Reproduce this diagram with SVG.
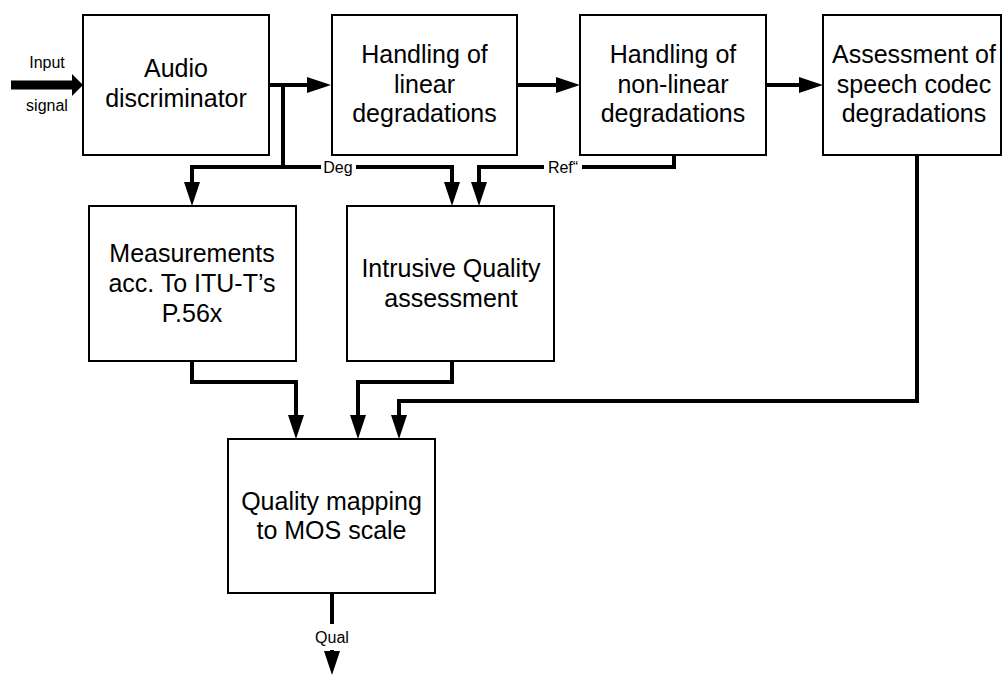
<svg xmlns="http://www.w3.org/2000/svg" width="1002" height="675" viewBox="0 0 1002 675">
<style>
.box{fill:#fff;stroke:#000;stroke-width:2}
.t{font-family:"Liberation Sans",Arial,sans-serif;font-size:25px;fill:#000;text-anchor:middle}
.s{font-family:"Liberation Sans",Arial,sans-serif;font-size:16px;fill:#000;text-anchor:middle}
.c{fill:none;stroke:#000;stroke-width:4;stroke-linejoin:miter}
</style>
<defs>
<marker id="ah" markerUnits="userSpaceOnUse" markerWidth="24" markerHeight="16" refX="4" refY="8" orient="auto" viewBox="0 0 24 16">
<path d="M0,0 L24,8 L0,16 Z" fill="#000"/>
</marker>
</defs>
<rect width="1002" height="675" fill="#fff"/>
<g id="connectors">
<line x1="11" y1="85" x2="73" y2="85" stroke="#000" stroke-width="9"/>
<polygon points="72,74 83,85 72,96" fill="#000"/>
<polyline class="c" points="269,85 311,85" marker-end="url(#ah)"/>
<polyline class="c" points="283,85 283,167"/>
<polyline class="c" points="285,167 192,167 192,186" marker-end="url(#ah)"/>
<polyline class="c" points="281,167 321,167"/>
<polyline class="c" points="356,167 452,167 452,186" marker-end="url(#ah)"/>
<polyline class="c" points="517,85 560,85" marker-end="url(#ah)"/>
<polyline class="c" points="766,85 803,85" marker-end="url(#ah)"/>
<polyline class="c" points="674,155 674,167 582,167"/>
<polyline class="c" points="544,167 479,167 479,186" marker-end="url(#ah)"/>
<polyline class="c" points="192,362 192,382 296,382 296,419" marker-end="url(#ah)"/>
<polyline class="c" points="452,362 452,382 358,382 358,419" marker-end="url(#ah)"/>
<polyline class="c" points="917,155 917,401 399,401 399,419" marker-end="url(#ah)"/>
<polyline class="c" points="332,593 332,624"/>
<polyline class="c" points="332,650 332,655" marker-end="url(#ah)"/>
<text class="s" x="338" y="173">Deg</text>
<text class="s" x="563" y="173">Ref“</text>
<text class="s" x="332" y="643" font-size="17">Qual</text>
<text class="s" x="47" y="68" font-size="17">Input</text>
<text class="s" x="47" y="111" font-size="17">signal</text>
</g>
<g id="audio">
<rect class="box" x="83" y="15" width="186" height="140"/>
<text class="t" x="176" y="77">Audio</text>
<text class="t" x="176" y="107">discriminator</text>
</g>
<g id="linear">
<rect class="box" x="332" y="15" width="185" height="140"/>
<text class="t" x="424.5" y="63">Handling of</text>
<text class="t" x="424.5" y="93">linear</text>
<text class="t" x="424.5" y="122">degradations</text>
</g>
<g id="nonlinear">
<rect class="box" x="580" y="15" width="186" height="140"/>
<text class="t" x="673" y="63">Handling of</text>
<text class="t" x="673" y="93">non-linear</text>
<text class="t" x="673" y="122">degradations</text>
</g>
<g id="codec">
<rect class="box" x="823" y="15" width="178" height="140"/>
<text class="t" x="914" y="63">Assessment of</text>
<text class="t" x="914" y="93">speech codec</text>
<text class="t" x="914" y="122">degradations</text>
</g>
<g id="measurements">
<rect class="box" x="89" y="206" width="207" height="155"/>
<text class="t" x="192" y="262">Measurements</text>
<text class="t" x="192" y="292">acc. To ITU-T’s</text>
<text class="t" x="192" y="322">P.56x</text>
</g>
<g id="intrusive">
<rect class="box" x="347" y="206" width="207" height="155"/>
<text class="t" x="451" y="277">Intrusive Quality</text>
<text class="t" x="451" y="307">assessment</text>
</g>
<g id="quality">
<rect class="box" x="228" y="439" width="207" height="154"/>
<text class="t" x="331.5" y="510">Quality mapping</text>
<text class="t" x="331.5" y="539">to MOS scale</text>
</g>
</svg>
